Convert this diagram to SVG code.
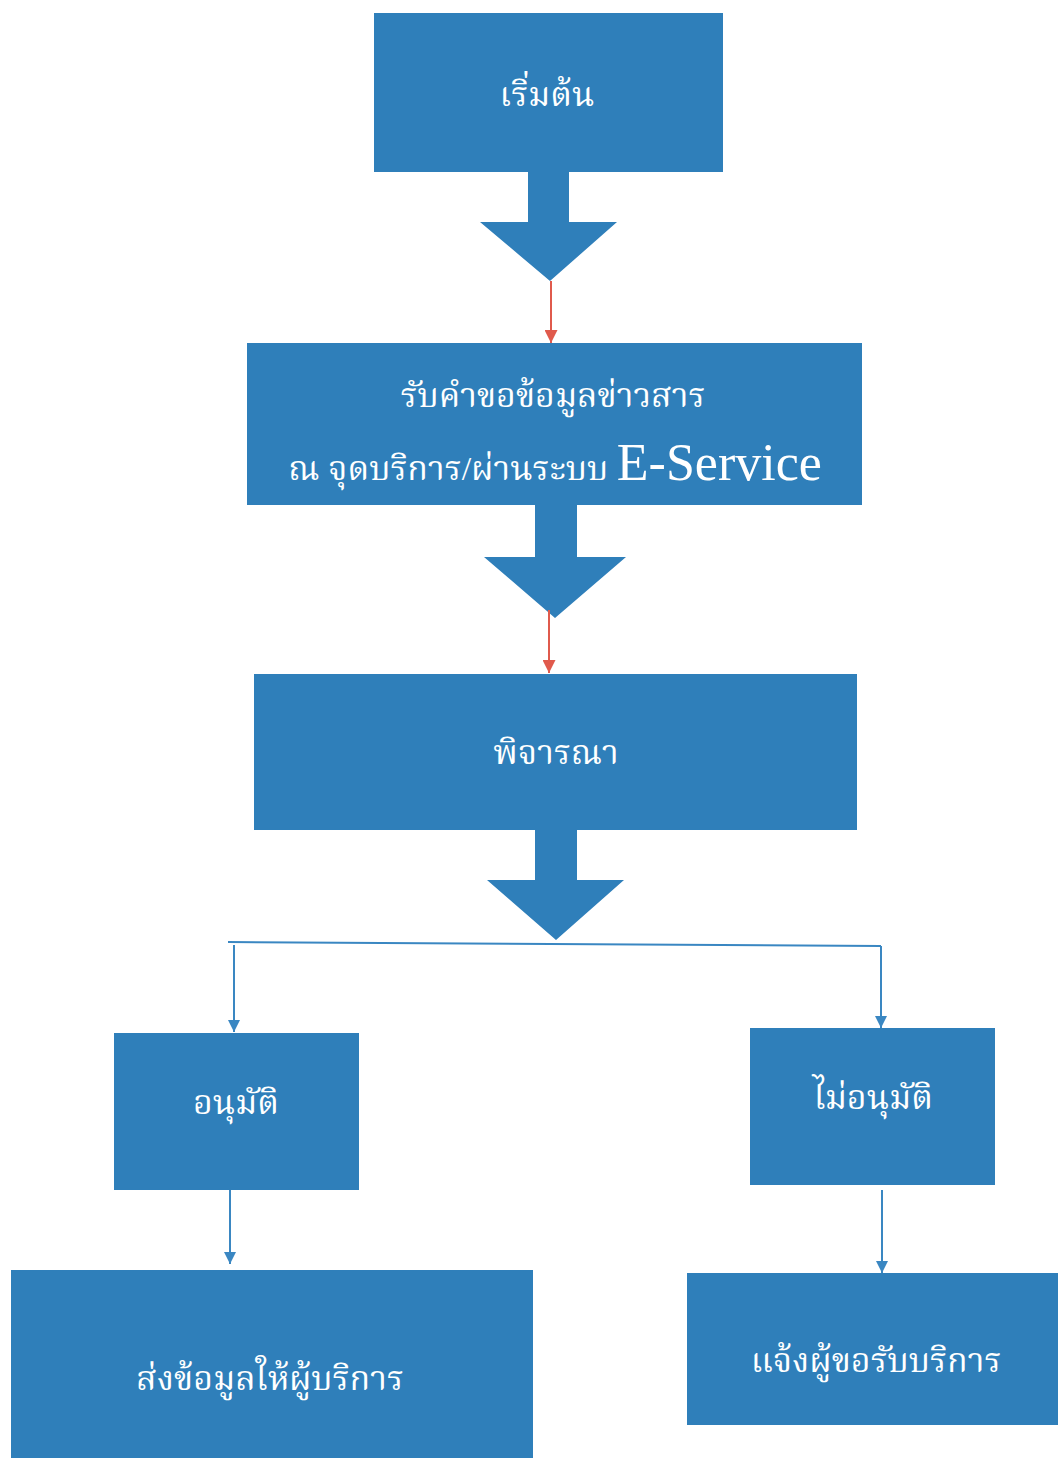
<svg xmlns="http://www.w3.org/2000/svg" width="1058" height="1458" viewBox="0 0 1058 1458">
<defs>
<style>
.box{fill:#2f7fba;}
.t{fill:#ffffff;font-family:"Liberation Serif","Noto Serif Thai","Noto Sans Thai","DejaVu Sans",serif;font-size:34px;text-anchor:middle;}
.big{font-size:52px;}
.blk{fill:#2f7fba;}
.ln{stroke:#3a87c2;stroke-width:2;fill:none;}
.red{stroke:#e05a4c;stroke-width:2;fill:none;}
</style>
<marker id="ab" viewBox="0 0 10 10" refX="10" refY="5" markerWidth="12" markerHeight="12" orient="auto" markerUnits="userSpaceOnUse">
<path d="M0,0 L10,5 L0,10 z" fill="#3a87c2"/>
</marker>
<marker id="ar" viewBox="0 0 10 10" refX="10" refY="5" markerWidth="13" markerHeight="13" orient="auto" markerUnits="userSpaceOnUse">
<path d="M0,0 L10,5 L0,10 z" fill="#e05a4c"/>
</marker>
</defs>
<rect width="1058" height="1458" fill="#ffffff"/>

<g id="n1"><rect class="box" x="374" y="13" width="349" height="159"/><text class="t" x="547" y="106">เริ่มต้น</text></g>
<g id="n2"><rect class="box" x="247" y="343" width="615" height="162"/><text class="t" x="553" y="407">รับคำขอข้อมูลข่าวสาร</text><text class="t" x="555" y="480">ณ จุดบริการ/ผ่านระบบ <tspan class="big">E-Service</tspan></text></g>
<g id="n3"><rect class="box" x="254" y="674" width="603" height="156"/><text class="t" x="556" y="764">พิจารณา</text></g>
<g id="n4"><rect class="box" x="114" y="1033" width="245" height="157"/><text class="t" x="236" y="1114">อนุมัติ</text></g>
<g id="n5"><rect class="box" x="750" y="1028" width="245" height="157"/><text class="t" x="873" y="1109">ไม่อนุมัติ</text></g>
<g id="n6"><rect class="box" x="11" y="1270" width="522" height="190"/><text class="t" x="270" y="1390">ส่งข้อมูลให้ผู้บริการ</text></g>
<g id="n7"><rect class="box" x="687" y="1273" width="375" height="152"/><text class="t" x="876" y="1372">แจ้งผู้ขอรับบริการ</text></g>

<g id="connectors">
<path class="blk" d="M528,172 H569 V222 H617 L550,281 L480,222 H528 Z"/>
<path class="blk" d="M535,505 H577 V557 H626 L555,618 L484,557 H535 Z"/>
<path class="blk" d="M535,830 H577 V880 H624 L556,940 L487,880 H535 Z"/>
<line class="red" x1="551" y1="281" x2="551" y2="343" marker-end="url(#ar)"/>
<line class="red" x1="549" y1="610" x2="549" y2="673" marker-end="url(#ar)"/>
<line class="ln" x1="228" y1="942" x2="881" y2="946"/>
<line class="ln" x1="234" y1="945" x2="234" y2="1032" marker-end="url(#ab)"/>
<line class="ln" x1="881" y1="946" x2="881" y2="1028" marker-end="url(#ab)"/>
<line class="ln" x1="230" y1="1190" x2="230" y2="1264" marker-end="url(#ab)"/>
<line class="ln" x1="882" y1="1190" x2="882" y2="1273" marker-end="url(#ab)"/>
</g>
</svg>
